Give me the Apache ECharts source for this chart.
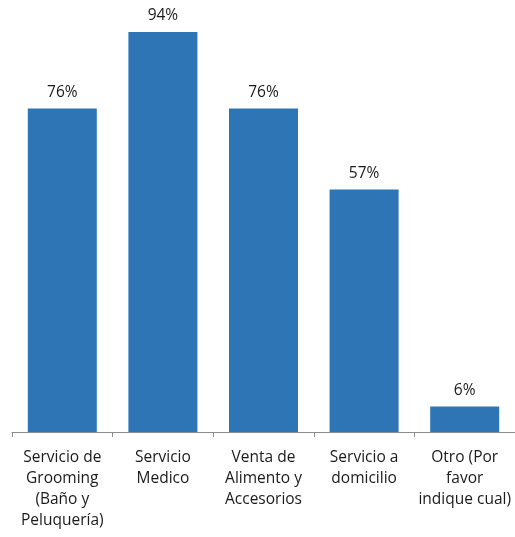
<!DOCTYPE html>
<html><head><meta charset="utf-8">
<script src="https://cdn.jsdelivr.net/npm/echarts@6/dist/echarts.min.js"></script>
<style>html,body{margin:0;padding:0;background:#fff}#c{width:515px;height:537px}</style>
</head><body><div id="c"></div>
<script>
const categories = ["Servicio de\nGrooming\n(Baño y\nPeluquería)", "Servicio\nMedico", "Venta de\nAlimento y\nAccesorios", "Servicio a\ndomicilio", "Otro (Por\nfavor\nindique cual)"];
const values = [76, 94, 76, 57, 6];
const chart = echarts.init(document.getElementById('c'));
chart.setOption({
  animation: false,
  grid: {left: 12, right: -2, top: 6.5, bottom: 105, containLabel: false},
  xAxis: {
    type: 'category', data: categories,
    axisLine: {lineStyle: {color: '#8c8c8c', width: 1}},
    axisTick: {show: true, length: 5, lineStyle: {color: '#8c8c8c'}},
    axisLabel: {interval: 0, margin: 15, color: '#1a1a1a', fontFamily: 'Open Sans', fontSize: 15.5, lineHeight: 21}
  },
  yAxis: {type: 'value', min: 0, max: 100, show: false, splitLine: {show: false}},
  series: [{
    type: 'bar', data: values, barWidth: 69,
    itemStyle: {color: '#2e75b6'},
    label: {show: true, position: 'top', distance: 8, formatter: '{c}%', color: '#1a1a1a', fontFamily: 'Open Sans', fontSize: 15.5}
  }]
});
</script></body></html>
